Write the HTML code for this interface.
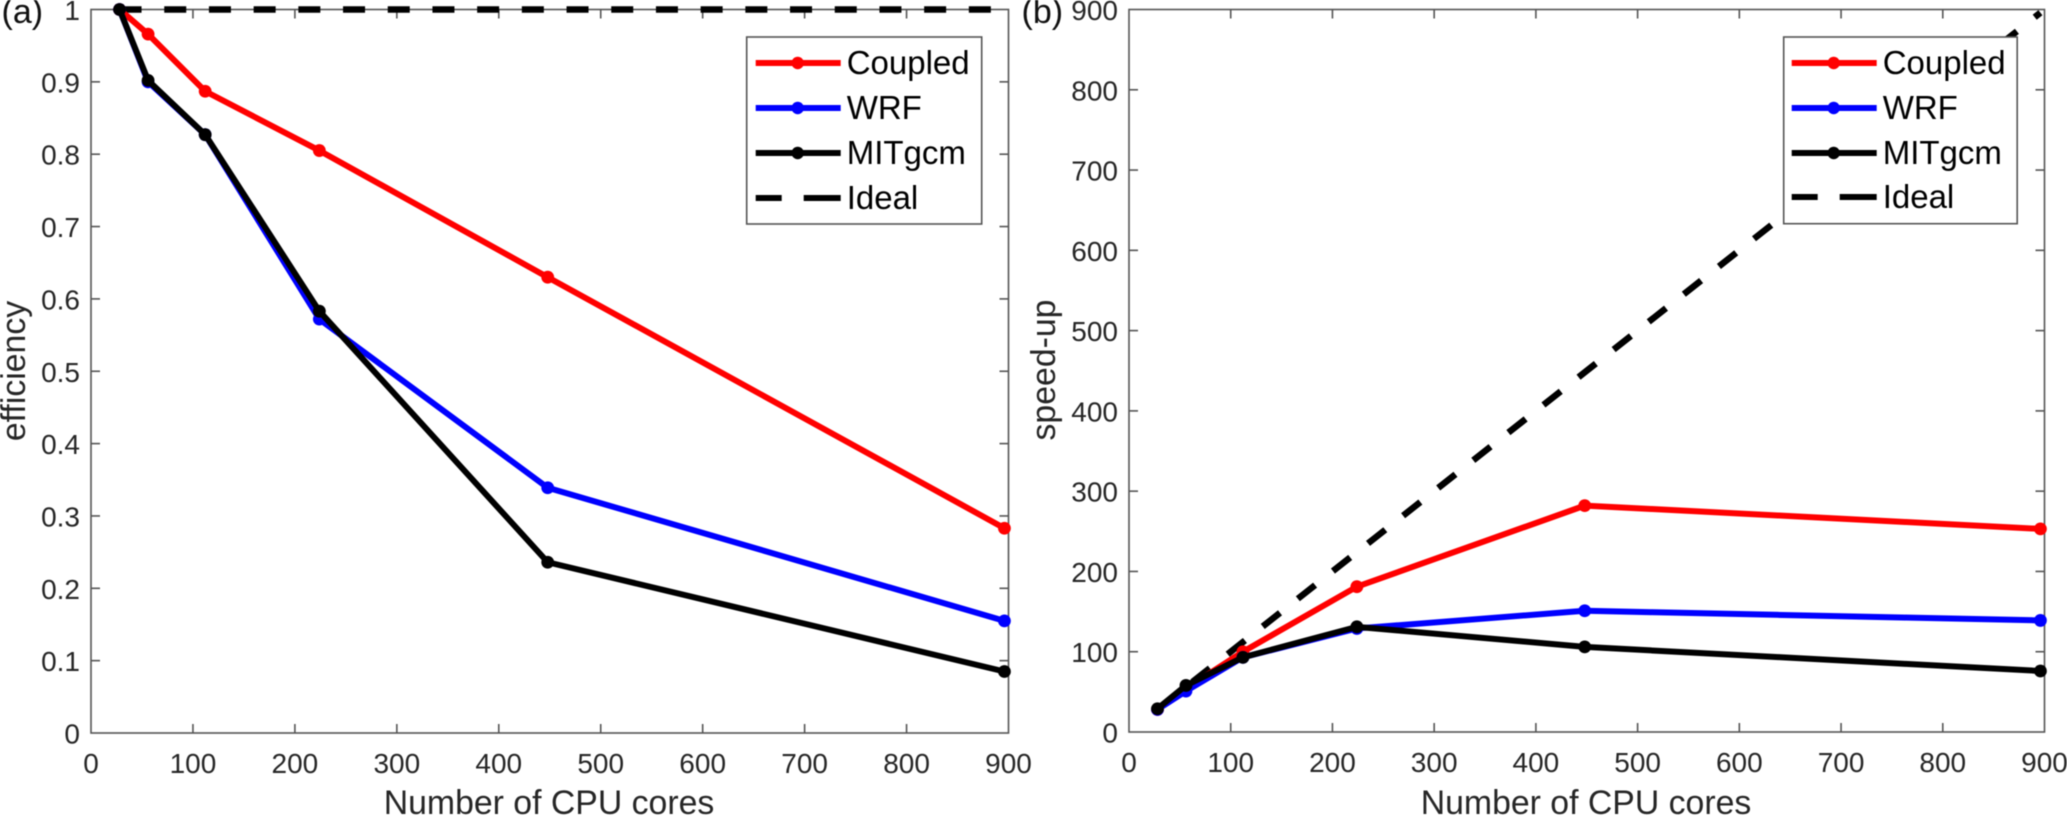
<!DOCTYPE html>
<html lang="en">
<head>
<meta charset="utf-8">
<title>Efficiency and speed-up against CPU cores</title>
<style>
html,body{margin:0;padding:0;background:#fff;}
body{width:2067px;height:817px;overflow:hidden;}
svg{display:block;font-family:"Liberation Sans",Arial,sans-serif;filter:blur(0.4px);}
</style>
</head>
<body>
<svg id="figure" width="2067" height="817" viewBox="0 0 2067 817" xmlns="http://www.w3.org/2000/svg">
<rect x="0" y="0" width="2067" height="817" fill="#fff"/>
<text x="1.5" y="23" font-size="34" fill="#111">(a)</text>
<text x="1021.5" y="23" font-size="34" fill="#111">(b)</text>
<g id="panel-a"></g>
<g id="panel-b"></g>

<g transform="translate(746.7,37)">
  <rect x="0" y="0" width="235" height="187" fill="#fff" stroke="#555" stroke-width="1.6"/>
  <g><line x1="9" x2="94" y1="26" y2="26" stroke="#ff0000" stroke-width="6"/><circle cx="51" cy="26" r="6.2" fill="#ff0000"/><text x="100" y="37" font-size="33" fill="#000">Coupled</text></g>
  <g><line x1="9" x2="94" y1="71" y2="71" stroke="#0000ff" stroke-width="6"/><circle cx="51" cy="71" r="6.2" fill="#0000ff"/><text x="100" y="82" font-size="33" fill="#000">WRF</text></g>
  <g><line x1="9" x2="94" y1="116" y2="116" stroke="#000" stroke-width="6"/><circle cx="51" cy="116" r="6.2" fill="#000"/><text x="100" y="127" font-size="33" fill="#000">MITgcm</text></g>
  <g><line x1="9" x2="94" y1="161" y2="161" stroke="#000" stroke-width="6" stroke-dasharray="26 22 37"/><text x="100" y="172" font-size="33" fill="#000">Ideal</text></g>
</g>

<g transform="translate(1783.7,37)">
  <rect x="0" y="0" width="233.5" height="186.7" fill="#fff" stroke="#555" stroke-width="1.6"/>
  <g><line x1="8" x2="93" y1="26" y2="26" stroke="#ff0000" stroke-width="6"/><circle cx="50" cy="26" r="6.2" fill="#ff0000"/><text x="99" y="37" font-size="33" fill="#000">Coupled</text></g>
  <g><line x1="8" x2="93" y1="71" y2="71" stroke="#0000ff" stroke-width="6"/><circle cx="50" cy="71" r="6.2" fill="#0000ff"/><text x="99" y="82" font-size="33" fill="#000">WRF</text></g>
  <g><line x1="8" x2="93" y1="116" y2="116" stroke="#000" stroke-width="6"/><circle cx="50" cy="116" r="6.2" fill="#000"/><text x="99" y="127" font-size="33" fill="#000">MITgcm</text></g>
  <g><line x1="8" x2="93" y1="160" y2="160" stroke="#000" stroke-width="6" stroke-dasharray="26 22 37"/><text x="99" y="171" font-size="33" fill="#000">Ideal</text></g>
</g>
</svg>

<script>
var cores = [28, 56, 112, 224, 448, 896];

var efficiencyCoupled = [1, 0.966, 0.887, 0.805, 0.63, 0.283];
var efficiencyWrf = [1, 0.9, 0.827, 0.572, 0.339, 0.155];
var efficiencyMitgcm = [1, 0.902, 0.827, 0.583, 0.236, 0.085];
var efficiencyIdeal = [1, 1, 1, 1, 1, 1];

var speedCoupled = [28, 54, 100, 181, 282, 253];
var speedWrf = [28, 51, 93, 129, 151, 139];
var speedMitgcm = [29, 58, 93, 131, 106, 76];
var speedIdeal = [28, 56, 112, 224, 448, 896];

var xTickValues = [0, 100, 200, 300, 400, 500, 600, 700, 800, 900];
var efficiencyTickValues = [0, 0.1, 0.2, 0.3, 0.4, 0.5, 0.6, 0.7, 0.8, 0.9, 1];
var speedTickValues = [0, 100, 200, 300, 400, 500, 600, 700, 800, 900];

var xAxisTitle = "Number of CPU cores";
var efficiencyAxisTitle = "efficiency";
var speedAxisTitle = "speed-up";

var SVG_NS = "http://www.w3.org/2000/svg";

function make(parent, tag, attrs, content) {
  var el = document.createElementNS(SVG_NS, tag);
  for (var k in attrs) { el.setAttribute(k, attrs[k]); }
  if (content !== undefined) { el.textContent = content; }
  parent.appendChild(el);
  return el;
}

function drawPanel(parent, box, yMax, yTicks, yTitle, yTitlePos, series) {
  var xScale = function (v) { return box.left + (v / 900) * (box.right - box.left); };
  var yScale = function (v) { return box.bottom - (v / yMax) * (box.bottom - box.top); };
  var axisColor = "#555";
  var labelColor = "#262626";

  var frame = make(parent, "rect", {
    x: box.left, y: box.top, width: box.right - box.left, height: box.bottom - box.top,
    fill: "none", stroke: axisColor, "stroke-width": 1.6
  });
  
  

  xTickValues.forEach(function (t) {
    var x = xScale(t);
    if (t > 0 && t < 900) {
      var bottomTick = make(parent, "line", { x1: x, x2: x, y1: box.bottom, y2: box.bottom - 9, stroke: axisColor, "stroke-width": 1.6 });
      
      
      var topTick = make(parent, "line", { x1: x, x2: x, y1: box.top, y2: box.top + 9, stroke: axisColor, "stroke-width": 1.6 });
      
      
    }
    var xLabel = make(parent, "text", { x: x, y: box.bottom + 40, "font-size": 28, fill: labelColor, "text-anchor": "middle" }, String(t));
    
    
  });

  yTicks.forEach(function (t) {
    var y = yScale(t);
    if (t > 0 && t < yMax) {
      var leftTick = make(parent, "line", { x1: box.left, x2: box.left + 9, y1: y, y2: y, stroke: axisColor, "stroke-width": 1.6 });
      
      
      var rightTick = make(parent, "line", { x1: box.right, x2: box.right - 9, y1: y, y2: y, stroke: axisColor, "stroke-width": 1.6 });
      
      
    }
    var yLabel = make(parent, "text", { x: box.left - 11, y: y + 10.5, "font-size": 28, fill: labelColor, "text-anchor": "end" }, String(t));
    
    
  });

  var xTitle = make(parent, "text", { x: box.titleX, y: 814, "font-size": 33.8, fill: labelColor, "text-anchor": "middle" }, xAxisTitle);
  
  

  var yTitleEl = make(parent, "text", {
    x: 0, y: 0, "font-size": 33.8, fill: labelColor, "text-anchor": "middle",
    transform: "translate(" + yTitlePos.x + "," + yTitlePos.y + ") rotate(-90)"
  }, yTitle);
  
  

  series.forEach(function (s) {
    var pts = s.values.map(function (v, i) { return xScale(cores[i]) + "," + yScale(v); }).join(" ");
    var attrs = { points: pts, fill: "none", stroke: s.color, "stroke-width": s.dashed ? 6.5 : 6, "stroke-linejoin": "round" };
    if (s.dashed) { attrs["stroke-dasharray"] = "22 22.7"; }
    var line = make(parent, "polyline", attrs);
    
    
    if (!s.dashed) {
      s.values.forEach(function (v, i) {
        var dot = make(parent, "circle", { cx: xScale(cores[i]), cy: yScale(v), r: 6.4, fill: s.color });
        
        
      });
    }
  });
}

drawPanel(
  document.getElementById("panel-a"),
  { left: 91, right: 1008.5, top: 9.5, bottom: 733, titleX: 549 },
  1, efficiencyTickValues, efficiencyAxisTitle, { x: 25, y: 371 },
  [
    { name: "ideal", color: "#000", dashed: true, values: efficiencyIdeal },
    { name: "coupled", color: "#ff0000", values: efficiencyCoupled },
    { name: "wrf", color: "#0000ff", values: efficiencyWrf },
    { name: "mitgcm", color: "#000", values: efficiencyMitgcm }
  ]
);

drawPanel(
  document.getElementById("panel-b"),
  { left: 1129, right: 2044.5, top: 9.5, bottom: 732, titleX: 1586 },
  900, speedTickValues, speedAxisTitle, { x: 1055, y: 370 },
  [
    { name: "ideal", color: "#000", dashed: true, values: speedIdeal },
    { name: "coupled", color: "#ff0000", values: speedCoupled },
    { name: "wrf", color: "#0000ff", values: speedWrf },
    { name: "mitgcm", color: "#000", values: speedMitgcm }
  ]
);
</script>
</body>
</html>
